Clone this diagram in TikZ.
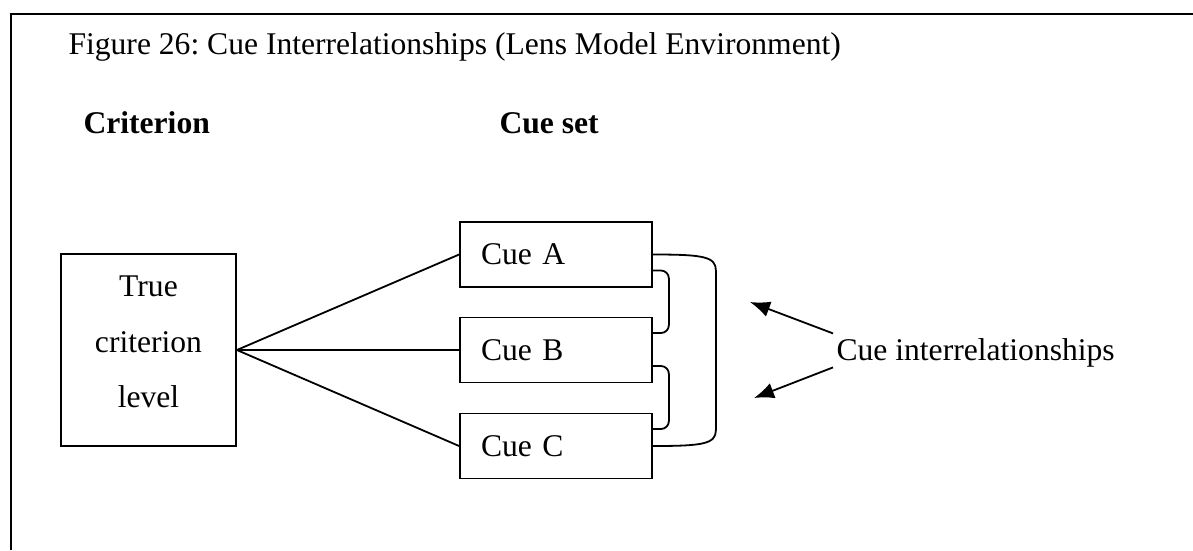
\documentclass[tikz,border=0pt]{standalone}
\usepackage{fontspec}
\setmainfont{Liberation Serif}
\usetikzlibrary{arrows.meta,positioning,calc}
\frenchspacing

\tikzset{
	cuebox/.style={draw, line width=1.8pt, minimum height=65pt, text width=150pt, inner xsep=21pt, inner ysep=0pt, align=left},
	critbox/.style={draw, line width=1.8pt, minimum width=175pt, minimum height=192pt, align=center, font=\fontsize{31.6}{55.5}\selectfont},
	head/.style={anchor=base west, font=\fontsize{31.6}{38}\selectfont\bfseries},
	link/.style={line width=1.8pt},
	pointer/.style={line width=1.8pt, -{Latex[length=20pt,width=16pt]}}
}

\begin{document}
\begin{tikzpicture}[x=1pt,y=-1pt,font=\fontsize{31.6}{38}\selectfont]
		\useasboundingbox (0,0) rectangle (1193,550);
		\draw[line width=2.2pt] (11,550) |- (1193,14);
		\node[anchor=base west] (title) at (65,54) {Figure 26: Cue Interrelationships (Lens Model Environment)};
		\node[head] (crithead) at (80,133) {Criterion};
		\node[head] (cuehead) at (496,133) {Cue set};
		\node[critbox] (crit) at (148.5,350) {True\\criterion\\level\rule[-16pt]{0pt}{0pt}};
		\node[cuebox] (cueA) at (556,254.5) {Cue A};
		\node[cuebox] (cueB) at (556,350) {Cue B};
		\node[cuebox] (cueC) at (556,446) {Cue C};
		\foreach \c in {cueA,cueB,cueC}
			\draw[link] (crit.east) -- (\c.west);
		% pairwise links
		\draw[link,rounded corners=8pt] ($(cueA.east)+(0,16)$) -- ++(16,0) -- ($(cueB.east)+(16,-17)$) -- ($(cueB.east)+(0,-17)$);
		\draw[link,rounded corners=8pt] ($(cueB.east)+(0,16)$) -- ++(16,0) -- ($(cueC.east)+(16,-17)$) -- ($(cueC.east)+(0,-17)$);
		% outer link
		\draw[link] (cueA.east) .. controls +(50,0) and +(0,-14) .. ($(cueA.east)+(63,16)$) -- ($(cueC.east)+(63,-16)$) .. controls +(0,14) and +(50,0) .. (cueC.east);
		\node[anchor=base west] (interrel) at (833,360) {Cue interrelationships};
		\coordinate (tipU) at (750,302);
		\coordinate (tipL) at (754,398);
		\draw[pointer] ($(interrel.west)+(0,-19)$) -- (tipU);
		\draw[pointer] ($(interrel.west)+(0,15)$) -- (tipL);
\end{tikzpicture}
\end{document}
